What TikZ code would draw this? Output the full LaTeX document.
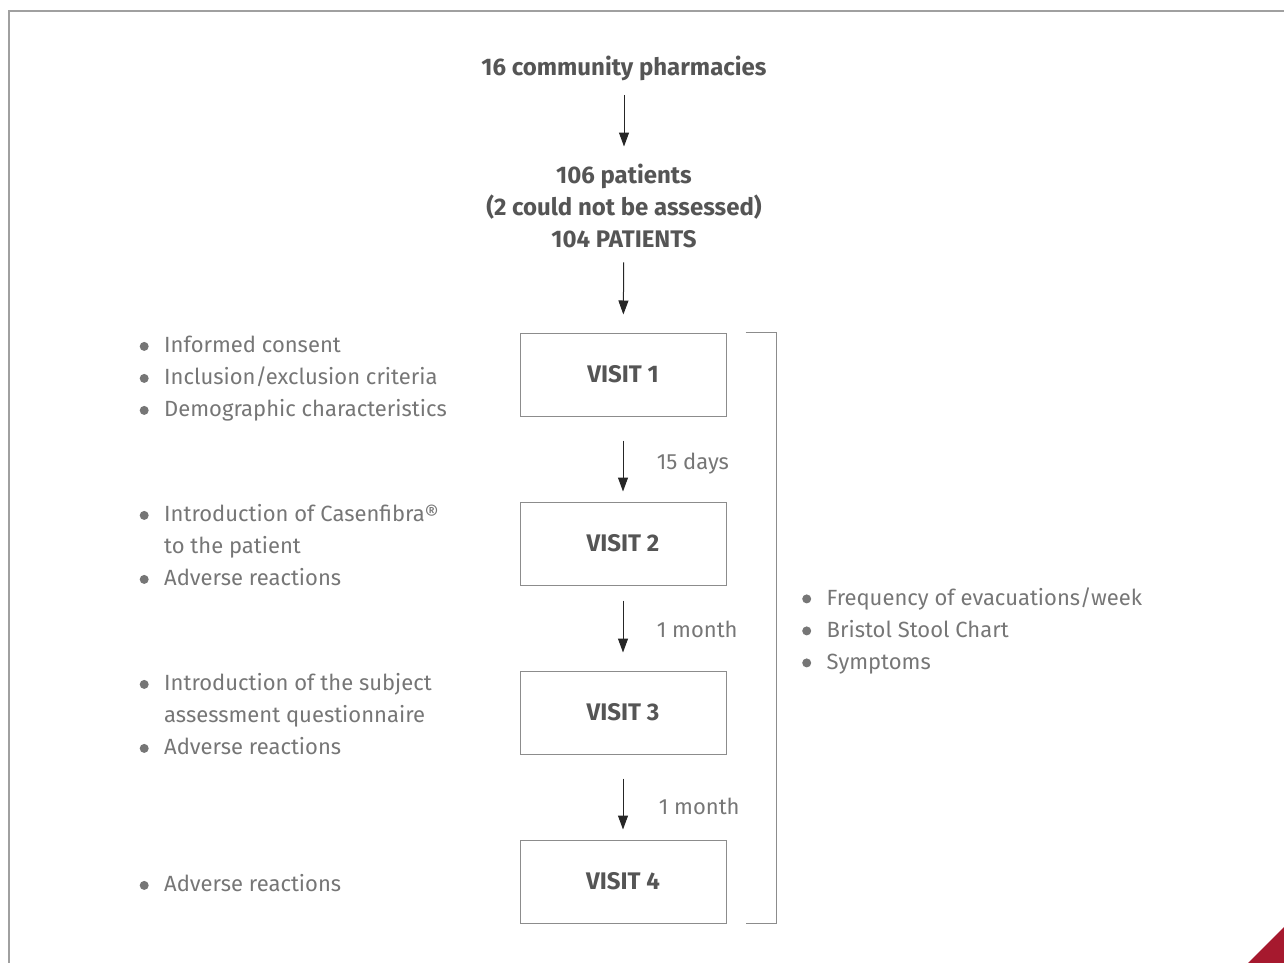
\documentclass[tikz,border=0pt]{standalone}
\usepackage{fontspec}
\setmainfont{Fira Sans}
\usetikzlibrary{arrows.meta,positioning,calc}
\definecolor{txtgray}{HTML}{767676}
\definecolor{headgray}{HTML}{555555}
\definecolor{framegray}{HTML}{A0A0A0}
\definecolor{boxgray}{HTML}{8C8C8C}
\definecolor{cornerred}{HTML}{A6192E}
\newcommand{\basefont}{\fontsize{22}{32}\selectfont}
\newcommand{\headfont}{\fontsize{24}{32}\selectfont}
\newcommand{\bl}{\raisebox{2pt}{\tikz\fill[txtgray] (0,0) circle (4.5pt);}}
\tikzset{
  visitbox/.style={draw=boxgray, line width=1pt, minimum width=206pt,
    minimum height=83pt, font=\headfont\bfseries, text=headgray},
  headtxt/.style={font=\headfont\bfseries, text=headgray, align=center},
  down/.style={-{Triangle[width=10pt,length=14pt]}, line width=1pt, black!85},
  gaptxt/.style={font=\basefont, text=txtgray},
  bullets/.style={font=\basefont, text=txtgray, inner sep=0pt, anchor=west},
}

\begin{document}
\begin{tikzpicture}[x=1pt, y=-1pt]
\useasboundingbox (0,0) rectangle (1284,963);

% frame and corner
\draw[framegray, line width=2pt] (9,990) -- (9,11) -- (1300,11);
\fill[cornerred] (1248,963) -- (1284,927) -- (1284,963) -- cycle;

% top
\node[headtxt] (pharm) at (624,68) {16 community pharmacies};
\node[headtxt] (pat) at (624,206) {106 patients\\(2 could not be assessed)\\104 PATIENTS};

% visits
\node[visitbox] (v1) at (623,374.5) {VISIT 1};
\node[visitbox] (v2) at (623,543.5) {VISIT 2};
\node[visitbox] (v3) at (623,712.5) {VISIT 3};
\node[visitbox] (v4) at (623,881.5) {VISIT 4};

\draw[down, shorten <=11pt, shorten >=14pt] (pharm) -- (pat);
\draw[down, shorten <=11pt, shorten >=18pt] (pat) -- (v1);
\draw[down, shorten <=24pt, shorten >=10pt] (v1) -- (v2)
  node[gaptxt, midway, right=30pt, yshift=-5pt] (g1) {15 days};
\draw[down, shorten <=15pt, shorten >=18pt] (v2) -- (v3)
  node[gaptxt, midway, right=30pt, yshift=-1pt] (g2) {1 month};
\draw[down, shorten <=24pt, shorten >=10pt] (v3) -- (v4)
  node[gaptxt, midway, right=32pt, yshift=-9pt] (g3) {1 month};

% bracket
\coordinate (brtop) at ([xshift=19pt]v1.north east);
\coordinate (brbot) at ([xshift=19pt]v4.south east);
\draw[boxgray, line width=1pt] (brtop) -- ++(31,0) |- (brbot);
\coordinate (brmid) at ($(brtop)!0.5!(brbot)+(31,3)$);

% lists
\coordinate (lcol) at (139.5,0);
\node[bullets] (l1) at ([yshift=-4pt]lcol |- v1) {\begin{tabular}{@{}c@{\hspace{15.5pt}}l@{}}
\bl & Informed consent\\
\bl & Inclusion/exclusion criteria\\
\bl & Demographic characteristics
\end{tabular}};
\node[bullets] (l2) at ([yshift=-4pt]lcol |- v2) {\begin{tabular}{@{}c@{\hspace{15.5pt}}l@{}}
\bl & Introduction of Casenfibra®\\
 & to the patient\\
\bl & Adverse reactions
\end{tabular}};
\node[bullets] (l3) at ([yshift=-4pt]lcol |- v3) {\begin{tabular}{@{}c@{\hspace{15.5pt}}l@{}}
\bl & Introduction of the subject\\
 & assessment questionnaire\\
\bl & Adverse reactions
\end{tabular}};
\node[bullets] (l4) at ([yshift=-4pt]lcol |- v4) {\begin{tabular}{@{}c@{\hspace{15.5pt}}l@{}}
\bl & Adverse reactions
\end{tabular}};
\node[bullets, right=25.5pt of brmid] (r1) {\begin{tabular}{@{}c@{\hspace{15.5pt}}l@{}}
\bl & Frequency of evacuations/week\\
\bl & Bristol Stool Chart\\
\bl & Symptoms
\end{tabular}};

\end{tikzpicture}
\end{document}
